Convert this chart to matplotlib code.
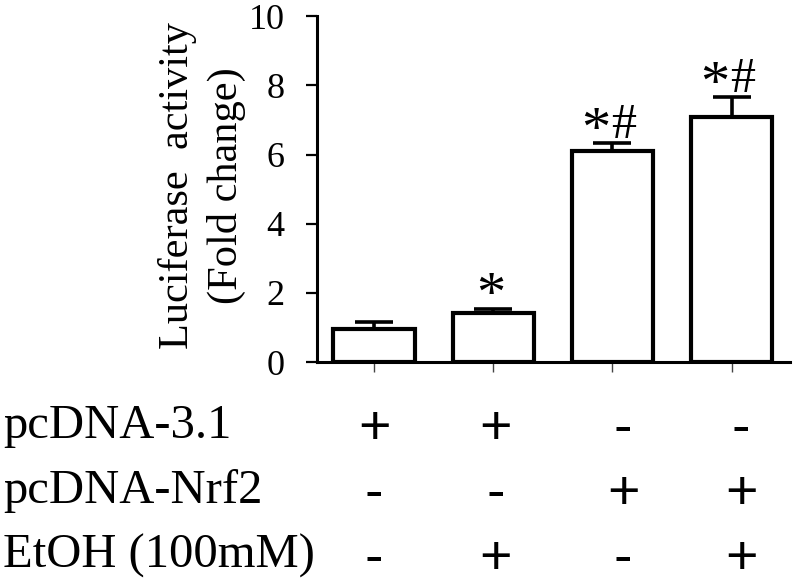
import matplotlib
matplotlib.use("Agg")
import matplotlib.pyplot as plt
import matplotlib.transforms as mtransforms

# values
groups = [0, 1, 2, 3]
values = [0.95, 1.41, 6.10, 7.08]
errors = [0.20, 0.14, 0.23, 0.58]
marks = ['', '*', '*#', '*#']

row_labels = ['pcDNA-3.1', 'pcDNA-Nrf2', 'EtOH (100mM)']
row_signs = [
    ['+', '+', '-', '-'],
    ['-', '-', '+', '+'],
    ['-', '+', '-', '+'],
]

yticks = [0, 2, 4, 6, 8, 10]

SERIF = 'Liberation Serif'
SANS = 'Liberation Sans'

fig = plt.figure(figsize=(8, 5.86), dpi=100)
ax = fig.add_axes([0.396, 0.382, 0.5915, 0.5905])

ax.bar(groups, values, width=0.68, color='white', edgecolor='black',
       linewidth=3, zorder=2)
ax.errorbar(groups, values, yerr=[[0] * len(errors), errors], fmt='none',
            ecolor='black', elinewidth=2.6, capsize=14, capthick=2.6,
            zorder=3)

# significance marks: asterisk drawn bigger than the hash, like the figure
for x, v, e, m in zip(groups, values, errors, marks):
    n = len(m)
    for k, ch in enumerate(m):
        dx = (k - (n - 1) / 2) * 20 - 2
        if ch == '*':
            ax.annotate(ch, (x, v + e), xytext=(dx, -2),
                        textcoords='offset points', ha='center',
                        va='baseline', fontsize=42, family=SERIF)
        else:
            ax.annotate(ch, (x, v + e), xytext=(dx, 4),
                        textcoords='offset points', ha='center',
                        va='baseline', fontsize=36, family=SERIF)

ax.set_xlim(-0.48, 3.49)
ax.set_ylim(0, 10)
ax.set_yticks(yticks)
ax.set_yticklabels([str(t) for t in yticks], fontsize=26, family=SERIF)
ax.set_xticks(groups)
ax.set_xticklabels([])

ax.tick_params(axis='y', direction='out', length=8, width=1.6, pad=15)
ax.tick_params(axis='x', direction='out', length=7, width=1.0,
               color='#444444')

for s in ['top', 'right']:
    ax.spines[s].set_visible(False)
for s in ['left', 'bottom']:
    ax.spines[s].set_linewidth(2.2)

fig.text(0.2525, 0.683, 'Luciferase  activity\n(Fold change)', rotation=90,
         ha='center', va='center', multialignment='center',
         fontsize=30.5, family=SERIF, linespacing=1.3)

# treatment table under the bars
label_y = [0.2526, 0.1416, 0.0307]
sign_y = [0.2423, 0.1314, 0.0205]
sign_shift = [0.0, 0.02, 0.09, 0.08]
trans = mtransforms.blended_transform_factory(ax.transData, fig.transFigure)
for r, lab in enumerate(row_labels):
    fig.text(0.004, label_y[r], lab, ha='left', va='baseline',
             fontsize=35, family=SERIF)
    for c, sgn in enumerate(row_signs[r]):
        ax.text(groups[c] + sign_shift[c], sign_y[r], sgn, transform=trans,
                ha='center', va='baseline', fontsize=40, family=SANS,
                clip_on=False)

fig.savefig('out.png', dpi=100)
